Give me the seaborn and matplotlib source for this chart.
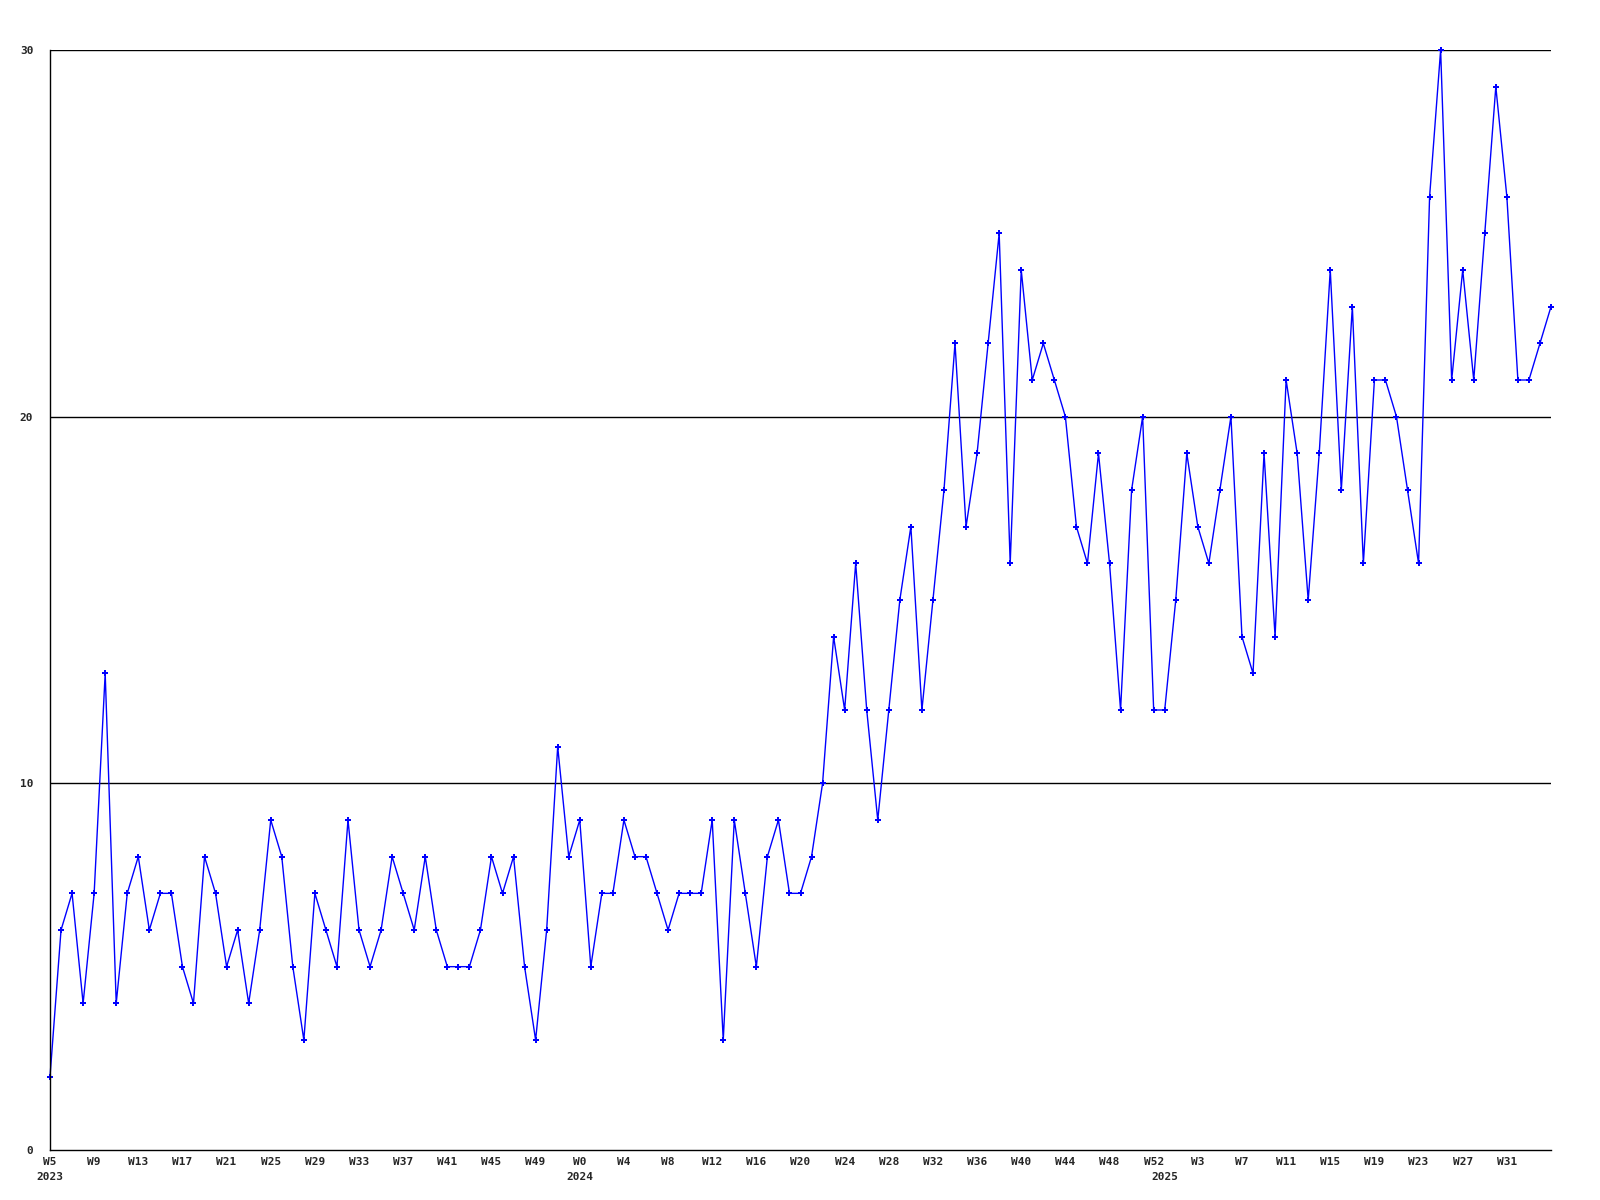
import numpy as np
import pandas as pd
import seaborn as sns
import matplotlib.pyplot as plt

sns.set_style('white')
plt.rcParams['font.family'] = ['DejaVu Sans Mono', 'DejaVu Sans']

# Weekly counts, W5 2023 .. W35 2025
counts = [
    2, 6, 7, 4, 7, 13, 4, 7, 8, 6,
    7, 7, 5, 4, 8, 7, 5, 6, 4, 6,
    9, 8, 5, 3, 7, 6, 5, 9, 6, 5,
    6, 8, 7, 6, 8, 6, 5, 5, 5, 6,
    8, 7, 8, 5, 3, 6, 11, 8, 9, 5,
    7, 7, 9, 8, 8, 7, 6, 7, 7, 7,
    9, 3, 9, 7, 5, 8, 9, 7, 7, 8,
    10, 14, 12, 16, 12, 9, 12, 15, 17, 12,
    15, 18, 22, 17, 19, 22, 25, 16, 24, 21,
    22, 21, 20, 17, 16, 19, 16, 12, 18, 20,
    12, 12, 15, 19, 17, 16, 18, 20, 14, 13,
    19, 14, 21, 19, 15, 19, 24, 18, 23, 16,
    21, 21, 20, 18, 16, 26, 30, 21, 24, 21,
    25, 29, 26, 21, 21, 22, 23,
]

# week numbers per year as printed on the axis
weeks_2023 = list(range(5, 53))
weeks_2024 = list(range(0, 53))
weeks_2025 = list(range(0, 36))
years = [2023, 2024, 2025]

week_nums = weeks_2023 + weeks_2024 + weeks_2025
year_of = [2023] * len(weeks_2023) + [2024] * len(weeks_2024) + [2025] * len(weeks_2025)

df = pd.DataFrame({'idx': np.arange(len(counts)), 'count': counts,
                   'week': week_nums, 'year': year_of})

fig = plt.figure(figsize=(16, 12), dpi=100)
ax = fig.add_axes([50 / 1600, 50 / 1200, 1501 / 1600, 1100 / 1200])

sns.lineplot(data=df, x='idx', y='count', ax=ax, color='#0000ff',
             linewidth=1, marker='P', markersize=5, markeredgewidth=0,
             clip_on=False)

ax.set_xlim(0, len(counts) - 1)
ax.set_ylim(0, 30)

# horizontal grid lines
for yv in [10, 20, 30]:
    ax.axhline(yv, color='black', linewidth=1, zorder=0)

ax.set_yticks([0, 10, 20, 30])
ax.set_yticklabels(['0', '10', '20', '30'], fontsize=8, fontweight='bold')

# week label every 4th week, the last one at the edge is not printed
ticks = df.iloc[::4]
ticks = ticks[ticks['idx'] < len(counts) - 1]
ax.set_xticks(ticks['idx'])
ax.set_xticklabels([f'W{w}' for w in ticks['week']], fontsize=8, fontweight='bold')
ax.tick_params(axis='both', length=0)
ax.tick_params(axis='y', pad=12)
ax.tick_params(axis='x', pad=5)

# year labels under the first week of each year
for yr in years:
    first = df.loc[df['year'] == yr, 'idx'].iloc[0]
    ax.annotate(str(yr), xy=(first, 0), xycoords=('data', 'axes fraction'),
                xytext=(0, -16), textcoords='offset points',
                ha='center', va='top', fontsize=8, fontweight='bold')

ax.set_xlabel('')
ax.set_ylabel('')
for side in ['top', 'right']:
    ax.spines[side].set_visible(False)
ax.spines['left'].set_color('black')
ax.spines['bottom'].set_color('black')
ax.spines['left'].set_linewidth(1)
ax.spines['bottom'].set_linewidth(1)

fig.savefig('out.png', dpi=100)
